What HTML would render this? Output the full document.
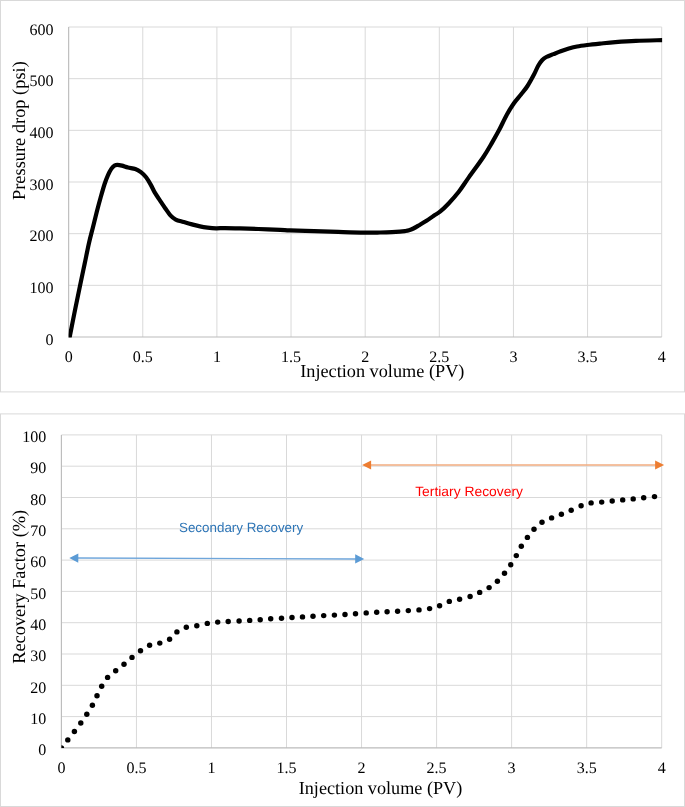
<!DOCTYPE html><html><head><meta charset="utf-8"><title>Charts</title><style>
html,body{margin:0;padding:0;background:#fff;width:685px;height:807px;overflow:hidden}
svg{display:block;will-change:transform}
text{font-family:"Liberation Serif",serif;fill:#000;text-rendering:geometricPrecision}
.s{font-family:"Liberation Sans",sans-serif}
</style></head><body>
<svg width="685" height="807" viewBox="0 0 685 807">
<defs><clipPath id="ct"><rect x="68.65" y="24.00" width="593.45" height="313.60"/></clipPath>
<clipPath id="cb"><rect x="61.40" y="431.90" width="603.30" height="316.00"/></clipPath></defs>
<rect x="0.5" y="0.5" width="684" height="391.4" fill="#fff" stroke="#d9d9d9" stroke-width="1"/>
<rect x="0.5" y="413.9" width="684" height="392.6" fill="#fff" stroke="#d9d9d9" stroke-width="1"/>
<path d="M68.65,285.33H661.70M68.65,233.67H661.70M68.65,182.00H661.70M68.65,130.33H661.70M68.65,78.67H661.70M68.65,27.00H661.70M142.78,27.00V337.00M216.91,27.00V337.00M291.04,27.00V337.00M365.18,27.00V337.00M439.31,27.00V337.00M513.44,27.00V337.00M587.57,27.00V337.00M661.70,27.00V337.00" stroke="#d9d9d9" stroke-width="1" fill="none"/>
<path d="M68.65,27.00V337.00H661.70" stroke="#bcbcbc" stroke-width="1.15" fill="none"/>
<text x="53.6" y="344.80" font-size="16" text-anchor="end">0</text>
<text x="53.6" y="293.13" font-size="16" text-anchor="end">100</text>
<text x="53.6" y="241.47" font-size="16" text-anchor="end">200</text>
<text x="53.6" y="189.80" font-size="16" text-anchor="end">300</text>
<text x="53.6" y="138.13" font-size="16" text-anchor="end">400</text>
<text x="53.6" y="86.47" font-size="16" text-anchor="end">500</text>
<text x="53.6" y="34.80" font-size="16" text-anchor="end">600</text>
<text x="68.65" y="361.8" font-size="16" text-anchor="middle">0</text>
<text x="142.78" y="361.8" font-size="16" text-anchor="middle">0.5</text>
<text x="216.91" y="361.8" font-size="16" text-anchor="middle">1</text>
<text x="291.04" y="361.8" font-size="16" text-anchor="middle">1.5</text>
<text x="365.18" y="361.8" font-size="16" text-anchor="middle">2</text>
<text x="439.31" y="361.8" font-size="16" text-anchor="middle">2.5</text>
<text x="513.44" y="361.8" font-size="16" text-anchor="middle">3</text>
<text x="587.57" y="361.8" font-size="16" text-anchor="middle">3.5</text>
<text x="661.70" y="361.8" font-size="16" text-anchor="middle">4</text>
<text x="300.2" y="376.8" font-size="18.3" textLength="164.2" lengthAdjust="spacingAndGlyphs">Injection volume (PV)</text>
<text transform="translate(25.0,200.0) rotate(-90)" font-size="18.4" textLength="138.8" lengthAdjust="spacingAndGlyphs">Pressure drop (psi)</text>
<path clip-path="url(#ct)" d="M69.40,338.50 C70.30,333.95 73.02,320.07 74.80,311.20 C76.58,302.33 78.47,293.17 80.10,285.30 C81.73,277.43 83.12,271.05 84.60,264.00 C86.08,256.95 87.62,249.10 89.00,243.00 C90.38,236.90 91.60,232.60 92.90,227.40 C94.20,222.20 95.50,216.82 96.80,211.80 C98.10,206.78 99.40,201.93 100.70,197.30 C102.00,192.67 103.38,187.70 104.60,184.00 C105.82,180.30 106.88,177.62 108.00,175.10 C109.12,172.58 110.20,170.48 111.30,168.90 C112.40,167.32 113.58,166.28 114.60,165.60 C115.62,164.92 116.18,164.80 117.40,164.80 C118.62,164.80 120.13,165.15 121.90,165.60 C123.67,166.05 125.77,166.93 128.00,167.50 C130.23,168.07 133.15,168.23 135.30,169.00 C137.45,169.77 139.10,170.72 140.90,172.10 C142.70,173.48 144.47,175.22 146.10,177.30 C147.73,179.38 149.27,182.08 150.70,184.60 C152.13,187.12 153.17,189.78 154.70,192.40 C156.23,195.02 158.15,197.67 159.90,200.30 C161.65,202.93 163.45,205.68 165.20,208.20 C166.95,210.72 168.65,213.50 170.40,215.40 C172.15,217.30 173.50,218.50 175.70,219.60 C177.90,220.70 180.88,221.20 183.60,222.00 C186.32,222.80 189.27,223.67 192.00,224.40 C194.73,225.13 197.42,225.87 200.00,226.40 C202.58,226.93 204.83,227.28 207.50,227.60 C210.17,227.92 213.08,228.22 216.00,228.30 C218.92,228.38 221.00,228.08 225.00,228.10 C229.00,228.12 234.43,228.25 240.00,228.40 C245.57,228.55 251.68,228.77 258.40,229.00 C265.12,229.23 275.03,229.58 280.30,229.80 C285.57,230.02 284.37,230.08 290.00,230.30 C295.63,230.52 306.07,230.83 314.10,231.10 C322.13,231.37 329.90,231.65 338.20,231.90 C346.50,232.15 356.93,232.50 363.90,232.60 C370.87,232.70 375.32,232.57 380.00,232.50 C384.68,232.43 388.67,232.33 392.00,232.20 C395.33,232.07 397.83,231.88 400.00,231.70 C402.17,231.52 403.50,231.33 405.00,231.10 C406.50,230.87 407.60,230.73 409.00,230.30 C410.40,229.87 411.70,229.35 413.40,228.50 C415.10,227.65 417.02,226.48 419.20,225.20 C421.38,223.92 424.07,222.38 426.50,220.80 C428.93,219.22 431.55,217.22 433.80,215.70 C436.05,214.18 437.57,213.70 440.00,211.70 C442.43,209.70 445.30,206.98 448.40,203.70 C451.50,200.42 455.20,196.38 458.60,192.00 C462.00,187.62 464.67,183.23 468.80,177.40 C472.93,171.57 479.50,162.83 483.40,157.00 C487.30,151.17 489.52,147.02 492.20,142.40 C494.88,137.78 497.07,133.92 499.50,129.30 C501.93,124.68 504.37,119.08 506.80,114.70 C509.23,110.32 511.73,106.37 514.10,103.00 C516.47,99.63 518.77,97.33 521.00,94.50 C523.23,91.67 525.32,89.37 527.50,86.00 C529.68,82.63 532.32,77.68 534.10,74.30 C535.88,70.92 536.83,68.08 538.20,65.70 C539.57,63.32 540.95,61.45 542.30,60.00 C543.65,58.55 544.43,57.98 546.30,57.00 C548.17,56.02 551.10,55.05 553.50,54.10 C555.90,53.15 558.15,52.22 560.70,51.30 C563.25,50.38 566.08,49.40 568.80,48.60 C571.52,47.80 573.93,47.10 577.00,46.50 C580.07,45.90 583.37,45.48 587.20,45.00 C591.03,44.52 595.30,44.08 600.00,43.60 C604.70,43.12 609.42,42.57 615.40,42.10 C621.38,41.63 628.05,41.13 635.90,40.80 C643.75,40.47 658.07,40.22 662.50,40.10" stroke="#000" stroke-width="4.20" fill="none" stroke-linejoin="round" stroke-linecap="round"/>
<path d="M61.40,716.60H661.70M61.40,685.30H661.70M61.40,654.00H661.70M61.40,622.70H661.70M61.40,591.40H661.70M61.40,560.10H661.70M61.40,528.80H661.70M61.40,497.50H661.70M61.40,466.20H661.70M61.40,434.90H661.70M136.44,434.90V747.90M211.48,434.90V747.90M286.51,434.90V747.90M361.55,434.90V747.90M436.59,434.90V747.90M511.62,434.90V747.90M586.66,434.90V747.90M661.70,434.90V747.90" stroke="#d9d9d9" stroke-width="1" fill="none"/>
<path d="M61.40,434.90V747.90H661.70" stroke="#bcbcbc" stroke-width="1.15" fill="none"/>
<text x="46.2" y="755.10" font-size="16" text-anchor="end">0</text>
<text x="46.2" y="723.80" font-size="16" text-anchor="end">10</text>
<text x="46.2" y="692.50" font-size="16" text-anchor="end">20</text>
<text x="46.2" y="661.20" font-size="16" text-anchor="end">30</text>
<text x="46.2" y="629.90" font-size="16" text-anchor="end">40</text>
<text x="46.2" y="598.60" font-size="16" text-anchor="end">50</text>
<text x="46.2" y="567.30" font-size="16" text-anchor="end">60</text>
<text x="46.2" y="536.00" font-size="16" text-anchor="end">70</text>
<text x="46.2" y="504.70" font-size="16" text-anchor="end">80</text>
<text x="46.2" y="473.40" font-size="16" text-anchor="end">90</text>
<text x="46.2" y="442.10" font-size="16" text-anchor="end">100</text>
<text x="61.40" y="773.2" font-size="16" text-anchor="middle">0</text>
<text x="136.44" y="773.2" font-size="16" text-anchor="middle">0.5</text>
<text x="211.48" y="773.2" font-size="16" text-anchor="middle">1</text>
<text x="286.51" y="773.2" font-size="16" text-anchor="middle">1.5</text>
<text x="361.55" y="773.2" font-size="16" text-anchor="middle">2</text>
<text x="436.59" y="773.2" font-size="16" text-anchor="middle">2.5</text>
<text x="511.62" y="773.2" font-size="16" text-anchor="middle">3</text>
<text x="586.66" y="773.2" font-size="16" text-anchor="middle">3.5</text>
<text x="661.70" y="773.2" font-size="16" text-anchor="middle">4</text>
<text x="298.7" y="793.7" font-size="18.3" textLength="163.6" lengthAdjust="spacingAndGlyphs">Injection volume (PV)</text>
<text transform="translate(25.0,663.8) rotate(-90)" font-size="18.4" textLength="154.0" lengthAdjust="spacingAndGlyphs">Recovery Factor (%)</text>
<g fill="#000"><circle cx="67.80" cy="739.90" r="2.72"/><circle cx="74.40" cy="731.50" r="2.72"/><circle cx="80.80" cy="723.00" r="2.72"/><circle cx="86.80" cy="714.30" r="2.72"/><circle cx="92.40" cy="705.30" r="2.72"/><circle cx="97.00" cy="695.70" r="2.72"/><circle cx="101.70" cy="686.20" r="2.72"/><circle cx="107.60" cy="677.40" r="2.72"/><circle cx="115.70" cy="670.80" r="2.72"/><circle cx="124.00" cy="664.30" r="2.72"/><circle cx="132.00" cy="657.40" r="2.72"/><circle cx="140.50" cy="650.80" r="2.72"/><circle cx="149.60" cy="645.30" r="2.72"/><circle cx="159.80" cy="643.10" r="2.72"/><circle cx="169.60" cy="639.20" r="2.72"/><circle cx="176.90" cy="631.90" r="2.72"/><circle cx="186.30" cy="627.20" r="2.72"/><circle cx="196.80" cy="625.70" r="2.72"/><circle cx="207.30" cy="623.40" r="2.72"/><circle cx="217.70" cy="622.10" r="2.72"/><circle cx="228.20" cy="621.50" r="2.72"/><circle cx="239.10" cy="621.00" r="2.72"/><circle cx="249.70" cy="620.40" r="2.72"/><circle cx="260.20" cy="619.70" r="2.72"/><circle cx="270.70" cy="618.80" r="2.72"/><circle cx="281.50" cy="618.20" r="2.72"/><circle cx="292.00" cy="617.50" r="2.72"/><circle cx="302.50" cy="616.90" r="2.72"/><circle cx="313.00" cy="616.20" r="2.72"/><circle cx="323.70" cy="615.60" r="2.72"/><circle cx="334.40" cy="615.10" r="2.72"/><circle cx="345.00" cy="614.50" r="2.72"/><circle cx="355.50" cy="613.80" r="2.72"/><circle cx="366.20" cy="612.90" r="2.72"/><circle cx="376.70" cy="612.30" r="2.72"/><circle cx="387.10" cy="611.70" r="2.72"/><circle cx="397.60" cy="611.20" r="2.72"/><circle cx="408.30" cy="610.60" r="2.72"/><circle cx="419.00" cy="609.90" r="2.72"/><circle cx="429.60" cy="608.60" r="2.72"/><circle cx="439.60" cy="605.70" r="2.72"/><circle cx="449.30" cy="601.40" r="2.72"/><circle cx="459.60" cy="599.20" r="2.72"/><circle cx="470.10" cy="596.50" r="2.72"/><circle cx="479.70" cy="592.40" r="2.72"/><circle cx="489.10" cy="587.60" r="2.72"/><circle cx="497.40" cy="581.20" r="2.72"/><circle cx="504.50" cy="573.20" r="2.72"/><circle cx="510.70" cy="564.70" r="2.72"/><circle cx="516.30" cy="555.60" r="2.72"/><circle cx="521.30" cy="546.30" r="2.72"/><circle cx="527.40" cy="537.40" r="2.72"/><circle cx="534.00" cy="529.30" r="2.72"/><circle cx="542.00" cy="522.30" r="2.72"/><circle cx="551.60" cy="517.90" r="2.72"/><circle cx="561.40" cy="514.30" r="2.72"/><circle cx="571.20" cy="510.20" r="2.72"/><circle cx="581.10" cy="505.70" r="2.72"/><circle cx="591.10" cy="502.90" r="2.72"/><circle cx="601.70" cy="502.10" r="2.72"/><circle cx="612.20" cy="501.00" r="2.72"/><circle cx="622.70" cy="499.90" r="2.72"/><circle cx="633.20" cy="498.90" r="2.72"/><circle cx="643.70" cy="497.70" r="2.72"/><circle cx="654.50" cy="496.60" r="2.72"/><circle clip-path="url(#cbq)" cx="61.40" cy="747.90" r="2.72"/></g>
<defs><clipPath id="cbq"><rect x="61.40" y="737.90" width="10" height="10"/></clipPath></defs>
<path d="M76.50,558.02L357.00,558.98" stroke="#6fa6db" stroke-width="1.40"/><path d="M364.20,559.00L355.18,563.57L355.22,554.37Z" fill="#5b9bd5"/><path d="M69.30,558.00L78.28,562.63L78.32,553.43Z" fill="#5b9bd5"/>
<path d="M369.30,465.00L656.90,465.00" stroke="#f2ad80" stroke-width="1.50"/><path d="M664.10,465.00L655.10,469.60L655.10,460.40Z" fill="#ed7d31"/><path d="M362.10,465.00L371.10,469.60L371.10,460.40Z" fill="#ed7d31"/>
<text class="s" x="179.0" y="531.6" font-size="13.4" fill="#2e75b6" style="fill:#2e75b6" textLength="124.2" lengthAdjust="spacingAndGlyphs">Secondary Recovery</text>
<text class="s" x="415.2" y="496.0" font-size="13.6" style="fill:#ff0000" textLength="107.8" lengthAdjust="spacingAndGlyphs">Tertiary Recovery</text>
</svg></body></html>
